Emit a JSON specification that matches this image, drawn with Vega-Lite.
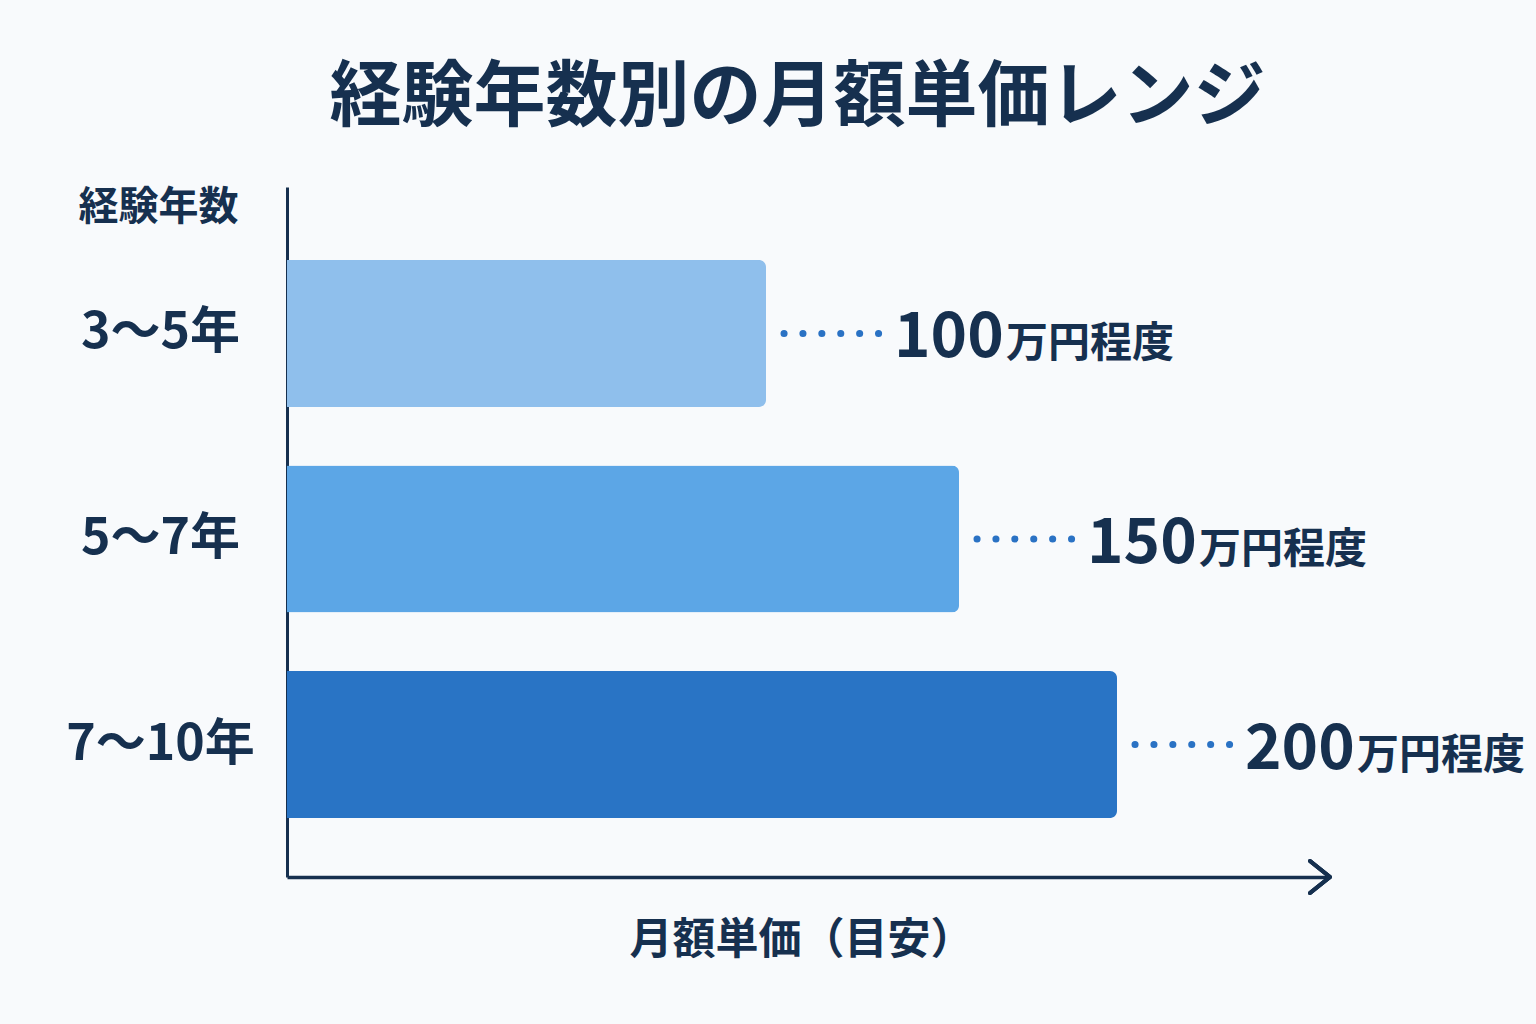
{
  "$schema": "https://vega.github.io/schema/vega-lite/v6.json",
  "autosize": "none",
  "width": 1043,
  "height": 690,
  "padding": {"left": 287, "top": 187, "right": 206, "bottom": 147},
  "background": "#f8fafc",
  "title": {
    "text": "経験年数別の月額単価レンジ",
    "font": "Noto Sans CJK JP",
    "fontSize": 72,
    "fontWeight": "bold",
    "color": "#16304f",
    "anchor": "middle",
    "dx": -11,
    "offset": 52
  },
  "config": {
    "view": {"stroke": null},
    "font": "Noto Sans CJK JP"
  },
  "data": {
    "values": [
      {"years": "3～5年", "price": 100},
      {"years": "5～7年", "price": 150},
      {"years": "7～10年", "price": 200}
    ]
  },
  "encoding": {
    "y": {
      "field": "years",
      "type": "nominal",
      "sort": null,
      "scale": {"paddingInner": 0.285, "paddingOuter": 0.321, "align": 0.553},
      "axis": {
        "title": "経験年数",
        "titleAngle": 0,
        "titleX": -129,
        "titleY": 20,
        "titleAlign": "center",
        "titleBaseline": "middle",
        "titleFontSize": 40,
        "titleFontWeight": "bold",
        "titleColor": "#16304f",
        "labelFontSize": 50,
        "labelFontWeight": "bold",
        "labelColor": "#16304f",
        "labelAlign": "center",
        "labelBaseline": "middle",
        "labelPadding": 127,
        "labelLimit": 400,
        "ticks": false,
        "tickSize": 0,
        "domainColor": "#16304f",
        "domainWidth": 3
      }
    }
  },
  "layer": [
    {
      "mark": {"type": "bar", "cornerRadiusEnd": 7},
      "encoding": {
        "x": {
          "field": "price",
          "type": "quantitative",
          "scale": {"domain": [0, 100, 150, 200, 267], "range": [0, 479, 672, 830, 1043]},
          "axis": {
            "title": "月額単価（目安）",
            "titleX": 514,
            "titleY": 63,
            "titleBaseline": "middle",
            "titleFontSize": 43,
            "titleFontWeight": "bold",
            "titleColor": "#16304f",
            "labels": false,
            "ticks": false,
            "grid": false,
            "domainColor": "#16304f",
            "domainWidth": 3.5
          }
        },
        "color": {
          "field": "years",
          "type": "nominal",
          "legend": null,
          "scale": {
            "domain": ["3～5年", "5～7年", "7～10年"],
            "range": ["#8fbfec", "#5ca6e6", "#2974c5"]
          }
        }
      }
    },
    {
      "mark": {
        "type": "rule",
        "xOffset": 18,
        "x2Offset": 115,
        "strokeDash": [0.1, 18.8],
        "strokeCap": "round",
        "strokeWidth": 7,
        "color": "#2a72c4"
      },
      "encoding": {
        "x": {"field": "price", "type": "quantitative"},
        "x2": {"field": "price"}
      }
    },
    {
      "mark": {
        "type": "text",
        "align": "left",
        "baseline": "alphabetic",
        "dx": 128,
        "dy": 24,
        "fontSize": 62,
        "fontWeight": "bold",
        "color": "#16304f"
      },
      "encoding": {
        "x": {"field": "price", "type": "quantitative"},
        "text": {"field": "price", "type": "quantitative"}
      }
    },
    {
      "mark": {
        "type": "text",
        "align": "left",
        "baseline": "alphabetic",
        "dx": 240,
        "dy": 24,
        "fontSize": 42,
        "fontWeight": "bold",
        "color": "#16304f"
      },
      "encoding": {
        "x": {"field": "price", "type": "quantitative"},
        "text": {"value": "万円程度"}
      }
    },
    {
      "mark": {
        "type": "point",
        "shape": "M-1.25,-1L0,0L-1.25,1",
        "filled": false,
        "size": 1024,
        "strokeWidth": 4,
        "strokeCap": "round",
        "strokeJoin": "round",
        "color": "#16304f",
        "opacity": 1
      },
      "encoding": {
        "x": {"value": "width"},
        "y": {"value": "height"}
      }
    }
  ]
}
